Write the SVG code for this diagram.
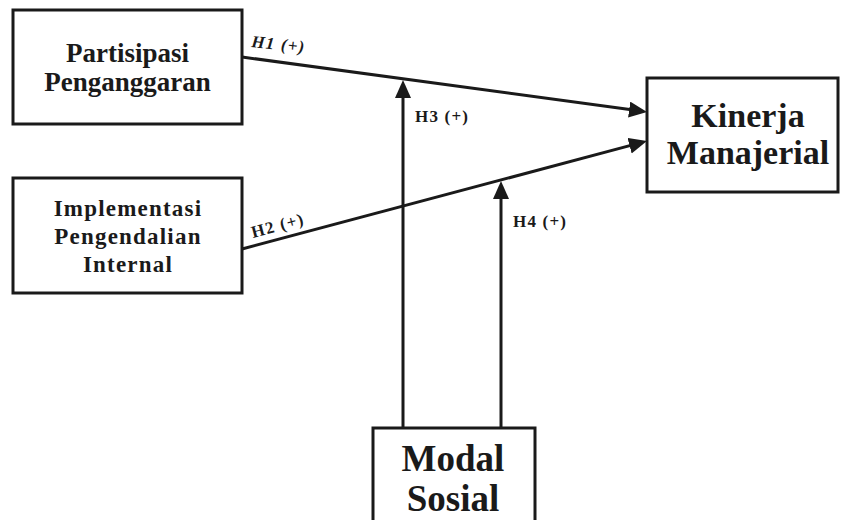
<svg xmlns="http://www.w3.org/2000/svg" width="841" height="520" viewBox="0 0 841 520">
<style>
.box{fill:#fff;stroke:#1a1a1a;stroke-width:3}
.t{font-family:"Liberation Serif","Times New Roman",serif;font-weight:bold;fill:#1a1a1a;text-anchor:middle}
.lbl{font-family:"Liberation Serif","Times New Roman",serif;font-weight:bold;fill:#1a1a1a;font-size:17px;letter-spacing:1.2px}
.ln{stroke:#1a1a1a;stroke-width:3;fill:none;marker-end:url(#ah)}
</style>
<defs>
<marker id="ah" markerUnits="userSpaceOnUse" markerWidth="20" markerHeight="18" refX="8" refY="8" orient="auto">
<path d="M0,0 L18,8 L0,16 z" fill="#1a1a1a"/>
</marker>
</defs>
<rect width="841" height="520" fill="#fff"/>
<g id="connectors">
<line class="ln" x1="242" y1="57" x2="637.1" y2="110.6"/>
<line class="ln" x1="242" y1="249" x2="637.3" y2="143.6"/>
<line class="ln" x1="403" y1="428" x2="403" y2="90"/>
<line class="ln" x1="501" y1="428" x2="501" y2="191"/>
<text class="lbl" font-style="italic" transform="translate(251,47) rotate(6)">H1 (+)</text>
<text class="lbl" transform="translate(253,238) rotate(-15)">H2 (+)</text>
<text class="lbl" x="415" y="122">H3 (+)</text>
<text class="lbl" x="513" y="227">H4 (+)</text>
</g>
<g id="partisipasi">
<rect class="box" x="13" y="10" width="229" height="114"/>
<text class="t" font-size="27" x="127.5" y="62">Partisipasi</text>
<text class="t" font-size="27" x="127.5" y="91">Penganggaran</text>
</g>
<g id="implementasi">
<rect class="box" x="13" y="178" width="229" height="115"/>
<text class="t" font-size="23" letter-spacing="1.2" x="128" y="216">Implementasi</text>
<text class="t" font-size="23" letter-spacing="1.2" x="128" y="244">Pengendalian</text>
<text class="t" font-size="23" letter-spacing="1.2" x="128" y="272">Internal</text>
</g>
<g id="kinerja">
<rect class="box" x="647" y="78" width="191" height="114"/>
<text class="t" font-size="34" x="748" y="127">Kinerja</text>
<text class="t" font-size="34" x="748" y="164">Manajerial</text>
</g>
<g id="modal">
<rect class="box" x="373" y="428" width="162" height="100"/>
<text class="t" font-size="37" x="453" y="471">Modal</text>
<text class="t" font-size="37" x="453" y="511">Sosial</text>
</g>
</svg>
